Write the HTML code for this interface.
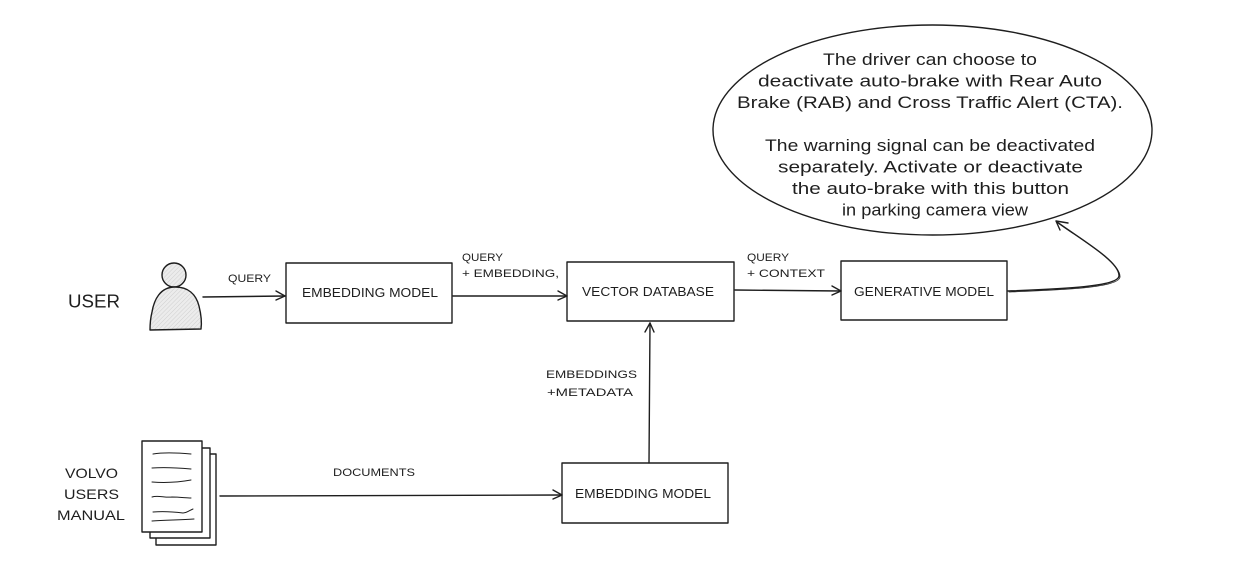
<!DOCTYPE html>
<html>
<head>
<meta charset="utf-8">
<style>
  html,body{margin:0;padding:0;background:#ffffff;}
  svg{display:block;}
  text{font-family:"Liberation Sans", "DejaVu Sans", sans-serif;fill:#1e1e1e;}
</style>
</head>
<body>
<svg width="1234" height="566" viewBox="0 0 1234 566" xmlns="http://www.w3.org/2000/svg">
  <defs>
    <pattern id="hatch" width="3" height="3" patternUnits="userSpaceOnUse" patternTransform="rotate(45)">
      <rect width="3" height="3" fill="#ececec"/>
      <line x1="0" y1="0" x2="0" y2="3" stroke="#cfcfcf" stroke-width="1"/>
    </pattern>
  </defs>
  <rect width="1234" height="566" fill="#ffffff"/>

  <g fill="none" stroke="#1e1e1e" stroke-width="1.4" stroke-linecap="round" stroke-linejoin="round">
    <!-- Person -->
    <circle cx="174" cy="275" r="12" fill="url(#hatch)"/>
    <path d="M175,287 C160,287 154,300 152,312 C150,320 150,326 150,330 L201,329 C202,322 201,314 199,306 C196,294 188,287 175,287 Z" fill="url(#hatch)"/>

    <!-- Embedding model box 1 -->
    <rect x="286" y="263" width="166" height="60"/>
    <!-- Vector DB box -->
    <rect x="567" y="262" width="167" height="59"/>
    <!-- Generative model box -->
    <rect x="841" y="261" width="166" height="59"/>
    <!-- Embedding model box 2 -->
    <rect x="562" y="463" width="166" height="60"/>

    <!-- Ellipse -->
    <ellipse cx="932.5" cy="130" rx="219.5" ry="105"/>

    <!-- Arrow: user -> embedding -->
    <path d="M203,297 L285,296"/>
    <path d="M276,291 L285,296 L276,300"/>
    <!-- Arrow: embedding -> vector db -->
    <path d="M453,296 L567,296"/>
    <path d="M558,291 L567,296 L558,300"/>
    <!-- Arrow: vector -> generative -->
    <path d="M735,290 L841,291"/>
    <path d="M832,286 L841,291 L832,295"/>
    <!-- Arrow: embedding2 -> vector (vertical) -->
    <path d="M649,463 L650,323"/>
    <path d="M645,332 L650,323 L654,332"/>
    <!-- Arrow: documents -> embedding2 -->
    <path d="M220,496 L562,495"/>
    <path d="M553,490 L562,495 L553,499"/>
    <!-- Curve: generative -> ellipse -->
    <path d="M1008,291 C1060,289 1118,287 1119,276 C1120,262 1082,240 1057,222"/>
    <path d="M1009,292 C1061,290 1119,288 1120,277 C1121,263 1083,241 1058,223" stroke-width="0.8"/>
    <path d="M1068,223 L1056,221 L1060,230"/>

    <!-- Documents icon -->
    <rect x="156" y="454" width="60" height="91" fill="#ffffff"/>
    <rect x="150" y="448" width="60" height="90" fill="#ffffff"/>
    <rect x="142" y="441" width="60" height="91" fill="#ffffff"/>
    <g stroke-width="1">
      <path d="M153,454 C165,452 180,453 191,454"/>
      <path d="M152,468 C165,467 180,468 191,469"/>
      <path d="M152,482 C165,483 180,482 191,480"/>
      <path d="M152,497 C158,495 165,498 172,497 C180,497 186,498 191,498"/>
      <path d="M153,512 C165,511 175,512 183,513 C187,513 190,510 193,509"/>
      <path d="M152,521 C165,520 180,520 194,519"/>
    </g>
  </g>

  <!-- Left labels -->
  <text x="68" y="307.5" font-size="18" textLength="52" lengthAdjust="spacingAndGlyphs">USER</text>
  <text x="65" y="478" font-size="14" textLength="53" lengthAdjust="spacingAndGlyphs">VOLVO</text>
  <text x="64" y="499" font-size="14" textLength="55" lengthAdjust="spacingAndGlyphs">USERS</text>
  <text x="57" y="520" font-size="14" textLength="68" lengthAdjust="spacingAndGlyphs">MANUAL</text>

  <!-- Box labels -->
  <text x="302" y="297" font-size="13" textLength="136" lengthAdjust="spacingAndGlyphs">EMBEDDING MODEL</text>
  <text x="582" y="296" font-size="13" textLength="132" lengthAdjust="spacingAndGlyphs">VECTOR DATABASE</text>
  <text x="854" y="296" font-size="13" textLength="140" lengthAdjust="spacingAndGlyphs">GENERATIVE MODEL</text>
  <text x="575" y="498" font-size="13" textLength="136" lengthAdjust="spacingAndGlyphs">EMBEDDING MODEL</text>

  <!-- Connector labels -->
  <text x="228" y="282" font-size="11" textLength="43" lengthAdjust="spacingAndGlyphs">QUERY</text>
  <text x="462" y="261" font-size="11" textLength="41" lengthAdjust="spacingAndGlyphs">QUERY</text>
  <text x="462" y="277" font-size="11" textLength="97" lengthAdjust="spacingAndGlyphs">+ EMBEDDING,</text>
  <text x="747" y="261" font-size="11" textLength="42" lengthAdjust="spacingAndGlyphs">QUERY</text>
  <text x="747" y="277" font-size="11" textLength="78" lengthAdjust="spacingAndGlyphs">+ CONTEXT</text>
  <text x="546" y="378" font-size="11" textLength="91" lengthAdjust="spacingAndGlyphs">EMBEDDINGS</text>
  <text x="547" y="396" font-size="11" textLength="86" lengthAdjust="spacingAndGlyphs">+METADATA</text>
  <text x="333" y="476" font-size="11" textLength="82" lengthAdjust="spacingAndGlyphs">DOCUMENTS</text>

  <!-- Ellipse text -->
  <text x="823" y="65" font-size="17" textLength="214" lengthAdjust="spacingAndGlyphs">The driver can choose to</text>
  <text x="758" y="86.5" font-size="17" textLength="344" lengthAdjust="spacingAndGlyphs">deactivate  auto-brake with Rear Auto</text>
  <text x="737" y="108" font-size="17" textLength="386" lengthAdjust="spacingAndGlyphs">Brake (RAB) and Cross Traffic Alert (CTA).</text>
  <text x="765" y="151" font-size="17" textLength="330" lengthAdjust="spacingAndGlyphs">The warning signal can be deactivated</text>
  <text x="778" y="172.5" font-size="17" textLength="305" lengthAdjust="spacingAndGlyphs">separately. Activate or deactivate</text>
  <text x="792" y="194" font-size="17" textLength="277" lengthAdjust="spacingAndGlyphs">the auto-brake with this button</text>
  <text x="842" y="215.5" font-size="17" textLength="186" lengthAdjust="spacingAndGlyphs">in parking camera view</text>
</svg>
</body>
</html>
